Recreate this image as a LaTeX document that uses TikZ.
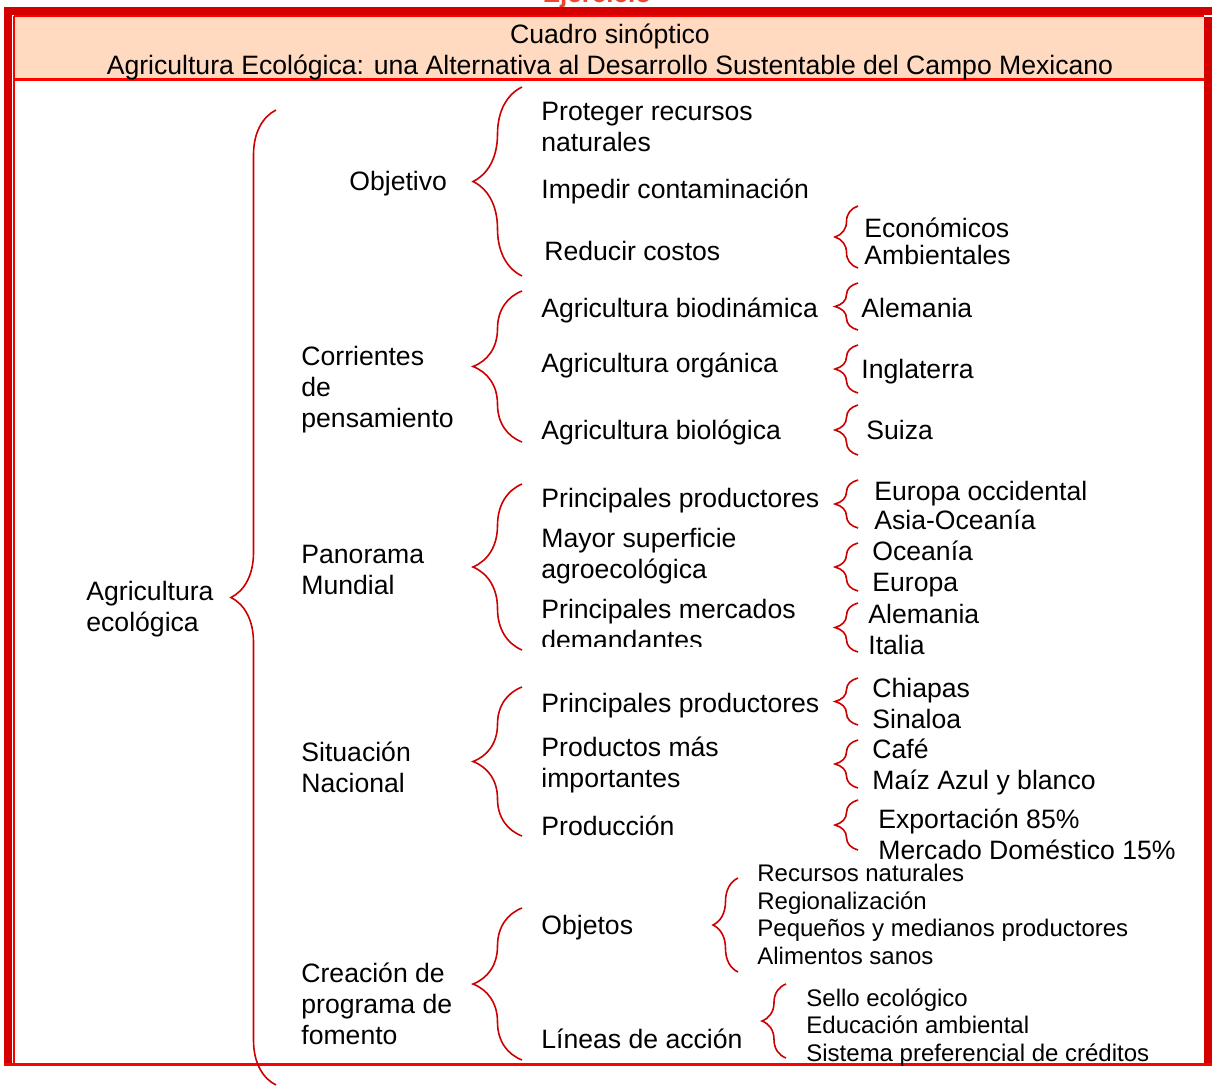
\documentclass[tikz,border=0pt]{standalone}
\usepackage{fontspec}
\setmainfont{Liberation Sans}
\usepackage{tikz}
\usetikzlibrary{decorations.pathreplacing,positioning}
\definecolor{framedark}{RGB}{212,0,0}
\definecolor{framelite}{RGB}{255,0,0}
\definecolor{headfill}{RGB}{255,218,192}
\definecolor{bracered}{RGB}{204,0,0}
\definecolor{titlered}{RGB}{235,70,50}
\tikzset{
  txt/.style={anchor=base west,inner sep=0pt,align=left,
    font=\fontsize{13.3}{15.5}\selectfont},
  small/.style={txt,font=\fontsize{12}{13.75}\selectfont},
  brc/.style={draw=bracered,line width=0.8pt,decorate,
    decoration={brace,amplitude=#1}},
}
\begin{document}
\begin{tikzpicture}[x=0.5pt,y=-0.5pt]
\useasboundingbox (0,0) rectangle (1212,1089);
% title, mostly cut off
\node[anchor=base,inner sep=0pt,text=titlered,font=\fontsize{13}{15}\selectfont\bfseries] (ej) at (597,2) {Ejercicio};
% frame
\fill[headfill] (14,16) rectangle (1204,80);
\fill[framedark] (4,7) rectangle (1212,14.5);
\fill[framedark] (4,7) rectangle (12,1063);
\fill[framedark] (1204,17) rectangle (1212,1063);
\draw[framelite,line width=1pt] (14,16) -- (1204,16);
\draw[framelite,line width=1pt] (14,16) -- (14,1063);
\draw[framelite,line width=1.2pt] (14,79.5) -- (1204,79.5);
\draw[framelite,line width=1.5pt] (4,1064.5) -- (1212,1064.5);
% header
\node[anchor=base,inner sep=0pt,font=\fontsize{13.3}{15.5}\selectfont] (h1) at (610,43) {Cuadro sinóptico};
\node[anchor=base,inner sep=0pt,font=\fontsize{13.3}{15.5}\selectfont] (h2) at (610,74) {Agricultura Ecológica: una Alternativa al Desarrollo Sustentable del Campo Mexicano};

% root (multi-line nodes sit on their last baseline)
\node[txt] (ag) at (86,631) {Agricultura\\ecológica};
\draw[brc=22.5pt] (276,1085) -- (276,110);

% level 1
\node[txt] (obj) at (349,190) {Objetivo};
\node[txt] (corr) at (301,427) {Corrientes\\de\\pensamiento};
\node[txt] (pan) at (301,594) {Panorama\\Mundial};
\node[txt] (sit) at (301,792) {Situación\\Nacional};
\node[txt] (crea) at (301,1044) {Creación de\\programa de\\fomento};

\draw[brc=24.5pt] (522,276) -- (522,87);
\draw[brc=24.5pt] (522,442) -- (522,291);
\draw[brc=24.5pt] (522,650) -- (522,484);
\draw[brc=24.5pt] (522,836) -- (522,687);
\draw[brc=24.5pt] (522,1060) -- (522,908);

% level 2
\node[txt] (prot) at (541,151) {Proteger recursos\\naturales};
\node[txt] (imp) at (541,198) {Impedir contaminación};
\node[txt] (red) at (544,260) {Reducir costos};
\node[txt] (bdin) at (541,317) {Agricultura biodinámica};
\node[txt] (org) at (541,372) {Agricultura orgánica};
\node[txt] (biol) at (541,439) {Agricultura biológica};
\node[txt] (pprod) at (541,507) {Principales productores};
\node[txt] (may) at (541,578) {Mayor superficie\\agroecológica};
\begin{scope}
\clip (530,590) rectangle (830,646);
\node[txt] (merc) at (541,649) {Principales mercados\\demandantes};
\end{scope}
\node[txt] (nprod) at (541,712) {Principales productores};
\node[txt] (prods) at (541,787) {Productos más\\importantes};
\node[txt] (prodc) at (541,835) {Producción};
\node[txt] (objs) at (541,934) {Objetos};
\node[txt] (lin) at (541,1048) {Líneas de acción};

% level 3
\draw[brc=11.5pt] (858,268) -- (858,206);
\node[txt,font=\fontsize{13.3}{13.5}\selectfont] (eco) at (864,264) {Económicos\\Ambientales};
\draw[brc=11.5pt] (858,330) -- (858,283);
\node[txt] (ale) at (861,317) {Alemania};
\draw[brc=11.5pt] (858,393) -- (858,345);
\node[txt] (ing) at (861,378) {Inglaterra};
\draw[brc=11.5pt] (858,455) -- (858,405);
\node[txt] (sui) at (866,439) {Suiza};
\draw[brc=11.5pt] (858,528) -- (858,480);
\node[txt,font=\fontsize{13.3}{14.5}\selectfont] (eur) at (874,529) {Europa occidental\\Asia-Oceanía};
\draw[brc=11.5pt] (858,591) -- (858,543);
\node[txt] (oce) at (872,591) {Oceanía\\Europa};
\draw[brc=11.5pt] (858,652) -- (858,603);
\node[txt] (alit) at (868,654) {Alemania\\Italia};
\draw[brc=11.5pt] (858,725) -- (858,678);
\node[txt] (chi) at (872,728) {Chiapas\\Sinaloa};
\draw[brc=11.5pt] (858,788) -- (858,740);
\node[txt] (caf) at (872,789) {Café\\Maíz Azul y blanco};
\draw[brc=11.5pt] (858,850) -- (858,800);
\node[txt] (exp) at (878,859) {Exportación 85\%\\Mercado Doméstico 15\%};
\draw[brc=12.5pt] (738,972) -- (738,878);
\node[small] (rec) at (757,964) {Recursos naturales\\Regionalización\\Pequeños y medianos productores\\Alimentos sanos};
\draw[brc=12pt] (786,1058) -- (786,984);
\node[small] (sel) at (806,1061) {Sello ecológico\\Educación ambiental\\Sistema preferencial de créditos};
\end{tikzpicture}
\end{document}
